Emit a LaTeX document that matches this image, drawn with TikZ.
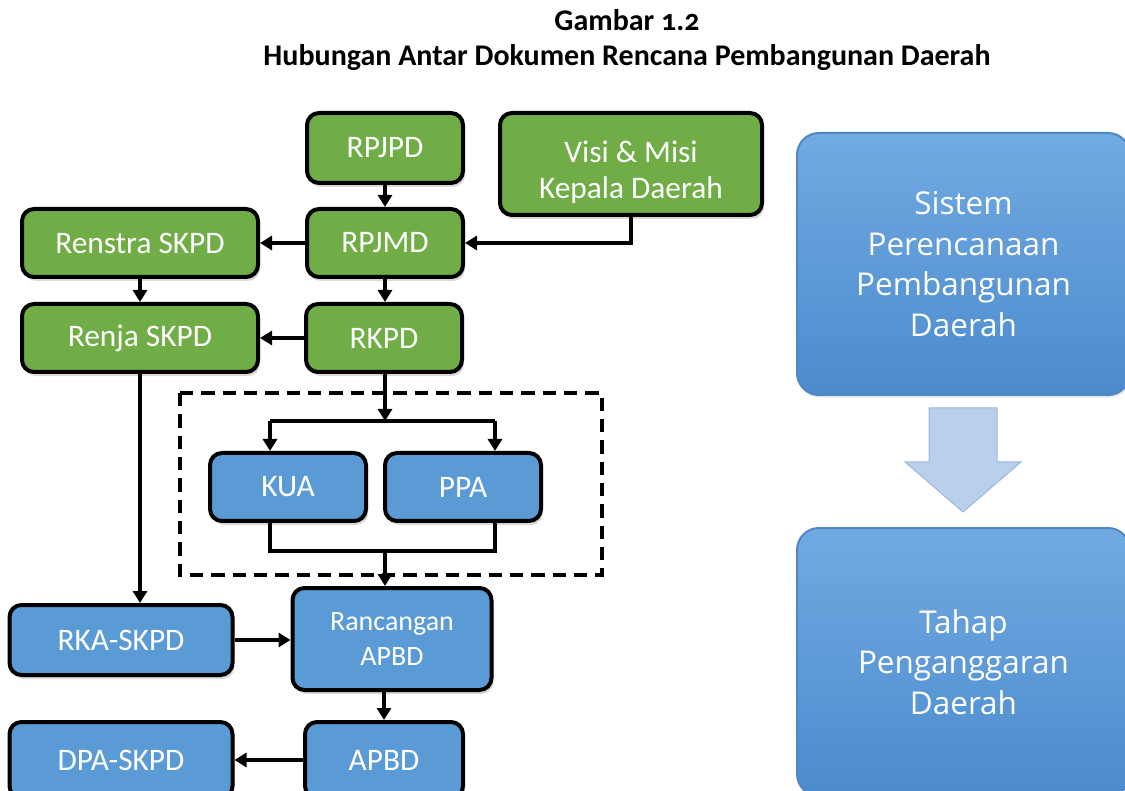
\documentclass[tikz,border=0pt]{standalone}
\usepackage{fontspec}
\setmainfont{Carlito}
\newfontfamily\osans{Open Sans}
\usetikzlibrary{arrows.meta,shadows,calc}
\definecolor{gfill}{HTML}{70AD47}
\definecolor{bfill}{HTML}{5B9BD5}
\definecolor{rtop}{HTML}{72AAE2}
\definecolor{rbot}{HTML}{4B8BCD}
\definecolor{rborder}{HTML}{4F86C6}
\definecolor{afill}{HTML}{B9D0EC}
\definecolor{aborder}{HTML}{9DB8DC}
\begin{document}
\begin{tikzpicture}[x=0.75pt,y=-0.75pt,
  box/.style={draw=black, line width=3pt, rounded corners=9pt, text=white,
    font=\fontsize{23.5}{28}\selectfont, inner sep=0pt, align=center,
    drop shadow={shadow xshift=1.5pt,shadow yshift=-3pt,opacity=0.3}},
  gbox/.style={box, fill=gfill},
  bbox/.style={box, fill=bfill},
  bigbox/.style={draw=rborder, line width=1.5pt, rounded corners=16.5pt,
    top color=rtop, bottom color=rbot, text=white, align=center,
    font=\osans\fontsize{23.6}{30.5}\selectfont,
    minimum width=249.75pt, inner sep=0pt,
    drop shadow={shadow xshift=1pt,shadow yshift=-2pt,opacity=0.2}},
  arr/.style={line width=2.6pt, -{Triangle[length=9pt,width=10.5pt]}},
  ln/.style={line width=2.6pt},
  ttl/.style={font=\bfseries\fontsize{22.5}{27}\selectfont, inner sep=0pt}
]
\useasboundingbox (0,0) rectangle (1125,791);

% title
\node[ttl] (t1) at (627,20) {Gambar \addfontfeatures{Numbers=OldStyle}1.2};
\node[ttl] (t2) at (627,58) {Hubungan Antar Dokumen Rencana Pembangunan Daerah};

% dashed group
\draw[line width=2.6pt, dash pattern=on 10pt off 6pt] (180,393) rectangle (602,575);

% green boxes
\node[gbox, minimum width=117pt, minimum height=52.5pt] (rpjpd) at (385,148) {RPJPD};
\node[gbox, minimum width=196.5pt, minimum height=76.5pt] (visi) at (631,164) {};
\node[text=white, align=center, inner sep=0pt, font=\fontsize{23.5}{27}\selectfont]
  (visitxt) at (631,172) {Visi \& Misi\\Kepala Daerah};
\node[gbox, minimum width=177pt, minimum height=51pt] (renstra) at (140,243) {Renstra SKPD};
\node[gbox, minimum width=117pt, minimum height=51pt] (rpjmd) at (385,243) {RPJMD};
\node[gbox, minimum width=177pt, minimum height=51pt] (renja) at (140,338) {Renja SKPD};
\node[gbox, minimum width=117pt, minimum height=51pt] (rkpd) at (384,338) {RKPD};

% blue boxes
\node[bbox, minimum width=117pt, minimum height=51pt] (kua) at (288,487) {KUA};
\node[bbox, minimum width=117pt, minimum height=51pt] (ppa) at (463,487) {PPA};
\node[bbox, minimum width=149.25pt, minimum height=76.5pt,
  font=\fontsize{21}{26}\selectfont] (ranc) at (392,639) {Rancangan\\APBD};
\node[bbox, minimum width=167.25pt, minimum height=52.5pt] (rka) at (121,640) {RKA-SKPD};
\node[bbox, minimum width=118.5pt, minimum height=57pt] (apbd) at (384,760) {APBD};
\node[bbox, minimum width=167.25pt, minimum height=57pt] (dpa) at (121,760) {DPA-SKPD};

% connectors
\draw[arr] (rpjpd.south) -- (rpjmd.north);
\draw[arr] (visi.south) |- (rpjmd.east);
\draw[arr] (rpjmd.west) -- (renstra.east);
\draw[arr] (renstra.south) -- (renja.north);
\draw[arr] (rpjmd.south) -- (rkpd.north -| rpjmd.south);
\draw[arr] (rkpd.west) -- (renja.east);
\coordinate (split) at (385,421);
\draw[arr] (rkpd.south -| split) -- (split);
\draw[ln] ($(split)+(-115,0)$) -- ($(split)+(110,0)$);
\draw[arr] ($(split)+(-115,0)$) -- ($(kua.north)+(-18,0)$);
\draw[arr] ($(split)+(110,0)$) -- ($(ppa.north)+(32,0)$);
\coordinate (merge) at (385,550);
\draw[ln] ($(kua.south)+(-18,0)$) |- ($(ppa.south)+(32,28)$) -- ($(ppa.south)+(32,0)$);
\draw[arr] (merge) -- (merge |- ranc.north);
\draw[arr] (renja.south) -- (renja.south |- rka.north);
\draw[arr] (rka.east) -- (rka.east -| ranc.west);
\draw[arr] (apbd.north |- ranc.south) -- (apbd.north);
\draw[arr] (apbd.west) -- (dpa.east);

% right side
\node[bigbox, minimum height=196.5pt] (sys) at (963.5,264)
  {Sistem\\Perencanaan\\Pembangunan\\Daerah};
\node[bigbox, minimum height=201pt] (tahap) at (963.5,662)
  {Tahap\\Penganggaran\\Daerah};
\draw[fill=afill, draw=aborder, line width=0.75pt]
  (929,408) -- (997,408) -- (997,462) -- (1021,462) -- (963,512)
  -- (905,462) -- (929,462) -- cycle;
\end{tikzpicture}
\end{document}
